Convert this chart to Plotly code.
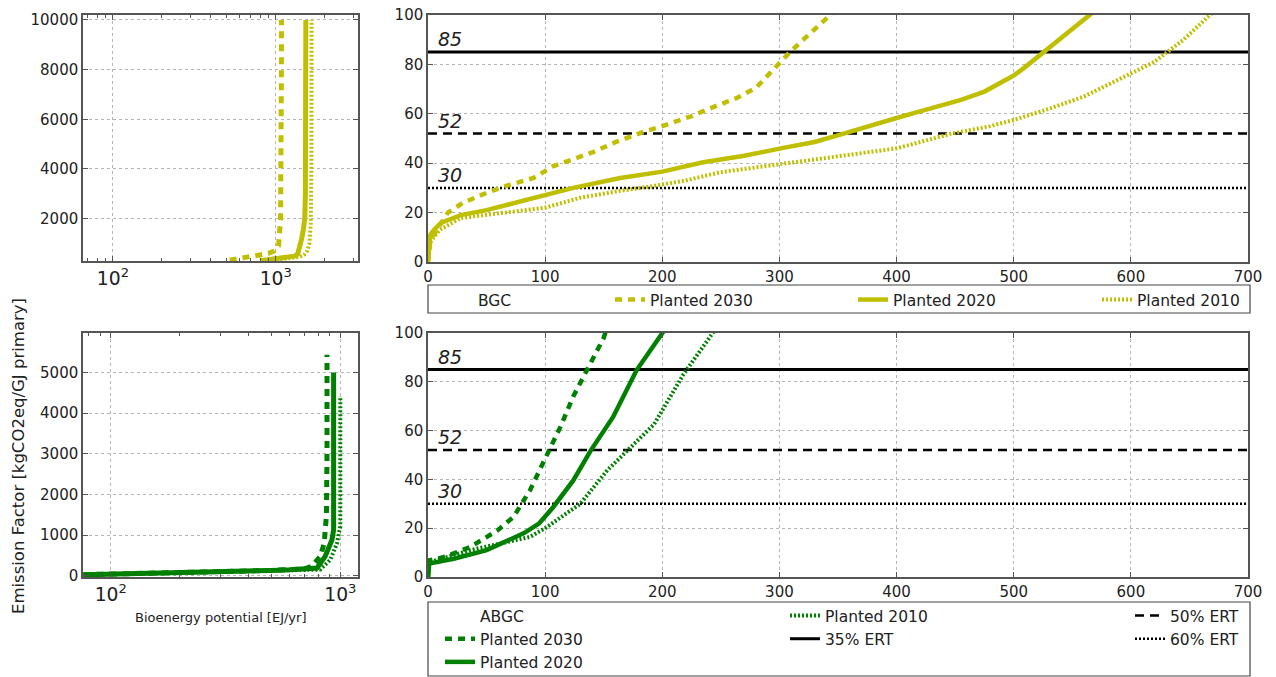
import plotly.graph_objects as go

W, H = 1276, 677

# ---------------- data ----------------
# BGC, linear view (top right)
bgc30_x = [0, 1, 2, 5, 10, 17, 30, 50, 68, 90, 107, 125, 141, 160, 184, 200, 224, 245, 264, 280, 289, 300, 309, 325, 343, 348]
bgc30_y = [0, 5, 9, 11, 15, 20, 24, 28, 31, 34, 38.8, 42, 44.5, 48.5, 52.7, 55, 58.9, 63, 66.5, 70.5, 75, 81, 85, 92, 100, 102]
bgc20_x = [0, 1, 2, 5, 11, 20, 28, 50, 93, 124, 164, 200, 235, 270, 300, 330, 352, 375, 400, 420, 440, 455, 475, 500, 510, 523, 541, 553, 565, 570]
bgc20_y = [0, 6, 11, 13, 15.8, 17.5, 19, 21, 26, 30, 34, 36.6, 40.4, 43, 45.9, 48.6, 51.6, 55, 58.3, 61, 63.5, 65.6, 69, 75.5, 79, 84, 91, 95.5, 100, 102]
bgc10_x = [0, 1, 2, 5, 10, 28, 50, 79, 100, 130, 160, 193, 220, 249, 275, 300, 349, 400, 447, 480, 500, 530, 560, 590, 620, 645, 668, 672]
bgc10_y = [0, 5, 8, 10, 13, 17.8, 19, 20.5, 22, 26, 28.5, 30.8, 33, 36.3, 38, 39.7, 42.5, 46, 52, 55, 57.5, 62, 67, 74, 81, 90, 100, 102]

# ABGC, linear view (bottom right)
abgc30_x = [0, 1, 14, 36, 59, 73, 87, 102, 113, 124, 136, 150, 152]
abgc30_y = [0, 6.8, 8.2, 12.3, 19, 24.6, 35.5, 50.5, 61.5, 74, 85, 98, 101]
abgc20_x = [0, 1, 22, 50, 82, 95, 107, 124, 139, 158, 178, 201, 203]
abgc20_y = [0, 5.5, 7.5, 11, 18, 22, 28.7, 39.6, 51.9, 65.6, 84.7, 100, 102]
abgc10_x = [0, 1, 36, 87, 100, 115, 130, 153, 173, 193, 218, 244, 246]
abgc10_y = [0, 6, 11, 16.4, 20, 25, 30, 43.7, 53, 62.6, 83, 100, 102]

# BGC, log view (top left)
bgcL30_x = [521, 600, 700, 800, 900, 980, 1040, 1070, 1080, 1083, 1084]
bgcL30_y = [330, 420, 480, 540, 600, 700, 900, 2000, 4000, 8000, 10000]
bgcL20_x = [800, 900, 1000, 1100, 1200, 1300, 1360, 1400, 1440, 1480, 1507, 1520, 1528, 1530]
bgcL20_y = [310, 360, 390, 420, 450, 490, 560, 800, 1170, 1600, 2000, 3000, 6000, 10000]
bgcL10_x = [900, 1000, 1100, 1200, 1300, 1400, 1450, 1500, 1560, 1610, 1640, 1655, 1660]
bgcL10_y = [300, 330, 360, 390, 420, 460, 500, 560, 700, 1000, 1800, 4000, 10000]

# ABGC, log view (bottom left)
abgcL30_x = [76, 100, 150, 200, 300, 400, 500, 600, 700, 751, 818, 851, 870, 875, 875]
abgcL30_y = [25, 35, 55, 70, 95, 115, 130, 145, 165, 230, 475, 800, 1500, 3000, 5440]
abgcL20_x = [76, 100, 150, 200, 300, 400, 500, 600, 700, 791, 859, 920, 935, 935]
abgcL20_y = [22, 33, 52, 68, 92, 112, 128, 143, 160, 188, 475, 884, 1130, 5000]
abgcL10_x = [76, 100, 150, 200, 300, 400, 500, 600, 700, 818, 904, 967, 1000, 1000]
abgcL10_y = [20, 30, 50, 65, 90, 110, 125, 140, 155, 150, 390, 800, 1211, 4420]

# emission reduction thresholds
ert_names = ["35% ERT", "50% ERT", "60% ERT"]
ert_levels = [85, 52, 30]
ert_labels = ["85", "52", "30"]
lin_range = [0, 700]

YELLOW = "#bfbf00"
GREEN = "#008000"


def px_x(p):
    return p / W


def px_y(p):
    return 1 - p / H


fig = go.Figure()

DASH = "7px,6px"
DOT = "2px,2px"

series_specs = [
    (bgcL30_x, bgcL30_y, YELLOW, DASH, 5, "x", "y"),
    (bgcL20_x, bgcL20_y, YELLOW, "solid", 5, "x", "y"),
    (bgcL10_x, bgcL10_y, YELLOW, DOT, 4, "x", "y"),
    (abgcL30_x, abgcL30_y, GREEN, DASH, 5, "x3", "y3"),
    (abgcL20_x, abgcL20_y, GREEN, "solid", 5, "x3", "y3"),
    (abgcL10_x, abgcL10_y, GREEN, DOT, 4, "x3", "y3"),
]
for xs, ys, c, d, w, xa, ya in series_specs:
    fig.add_trace(go.Scatter(x=xs, y=ys, mode="lines", xaxis=xa, yaxis=ya,
                             line=dict(color=c, dash=d, width=w), showlegend=False,
                             hoverinfo="skip"))

# ERT threshold lines on both linear panels
ert_dash = ["solid", "9px,6px", DOT]
ert_width = [3, 2.5, 2.5]
ert_legend = ["legend6", "legend7", "legend7"]
ert_rank = [20, 10, 20]
for xa, ya, show in [("x2", "y2", False), ("x4", "y4", True)]:
    for nm, lv, d, w, lg, rk in zip(ert_names, ert_levels, ert_dash, ert_width, ert_legend, ert_rank):
        fig.add_trace(go.Scatter(x=lin_range, y=[lv, lv], mode="lines", xaxis=xa, yaxis=ya,
                                 line=dict(color="black", dash=d, width=w), name=nm,
                                 legend=lg, legendgroup=nm, legendrank=rk, showlegend=show,
                                 hoverinfo="skip"))
    for lv, lb in zip(ert_levels, ert_labels):
        fig.add_annotation(x=7, y=lv, xref=xa, yref=ya, text="<i>" + lb + "</i>",
                           showarrow=False, xanchor="left", yanchor="bottom",
                           font=dict(size=19, color="#222", family="DejaVu Sans"))

# header entries (no symbol)
fig.add_trace(go.Scatter(x=[None], y=[None], mode="lines", name="BGC", legend="legend",
                         line=dict(color="rgba(0,0,0,0)"), xaxis="x2", yaxis="y2"))
fig.add_trace(go.Scatter(x=[None], y=[None], mode="lines", name="ABGC", legend="legend5",
                         legendgroup="h", legendrank=1, line=dict(color="rgba(0,0,0,0)"),
                         xaxis="x4", yaxis="y4"))

# BGC linear
fig.add_trace(go.Scatter(x=bgc30_x, y=bgc30_y, mode="lines", name="Planted 2030", legend="legend2",
                         line=dict(color=YELLOW, dash=DASH, width=4.5), xaxis="x2", yaxis="y2"))
fig.add_trace(go.Scatter(x=bgc20_x, y=bgc20_y, mode="lines", name="Planted 2020", legend="legend3",
                         line=dict(color=YELLOW, width=4.5), xaxis="x2", yaxis="y2"))
fig.add_trace(go.Scatter(x=bgc10_x, y=bgc10_y, mode="lines", name="Planted 2010", legend="legend4",
                         line=dict(color=YELLOW, dash=DOT, width=4), xaxis="x2", yaxis="y2"))
# ABGC linear
fig.add_trace(go.Scatter(x=abgc30_x, y=abgc30_y, mode="lines", name="Planted 2030", legend="legend5",
                         legendgroup="a30", legendrank=2, line=dict(color=GREEN, dash=DASH, width=4.5),
                         xaxis="x4", yaxis="y4"))
fig.add_trace(go.Scatter(x=abgc20_x, y=abgc20_y, mode="lines", name="Planted 2020", legend="legend5",
                         legendgroup="a20", legendrank=3, line=dict(color=GREEN, width=4.5),
                         xaxis="x4", yaxis="y4"))
fig.add_trace(go.Scatter(x=abgc10_x, y=abgc10_y, mode="lines", name="Planted 2010", legend="legend6",
                         legendgroup="a10", legendrank=1, line=dict(color=GREEN, dash=DOT, width=4),
                         xaxis="x4", yaxis="y4"))

FONT = "DejaVu Sans"
TICKFONT = dict(family=FONT, size=15, color="#222")
common = dict(showline=True, mirror="ticks", linecolor="#555", linewidth=1.5,
              ticks="inside", ticklen=5, tickcolor="#555", showgrid=True,
              gridcolor="#b5b5b5", griddash="dot", gridwidth=1, zeroline=False,
              tickfont=TICKFONT, automargin=False)

TL = dict(x=[83, 358], y=[15, 261])
BL = dict(x=[83, 358], y=[333, 577])
TR = dict(x=[428, 1248], y=[15, 262])
BR = dict(x=[428, 1248], y=[333, 577])


def dom(b):
    return [px_x(b["x"][0]), px_x(b["x"][1])], [px_y(b["y"][1]), px_y(b["y"][0])]


d1x, d1y = dom(TL)
d2x, d2y = dom(TR)
d3x, d3y = dom(BL)
d4x, d4y = dom(BR)

fig.update_layout(
    width=W, height=H, margin=dict(l=0, r=0, t=0, b=0, pad=0, autoexpand=False),
    paper_bgcolor="white", plot_bgcolor="white",
    font=dict(family=FONT, color="#222"),
    xaxis=dict(domain=d1x, anchor="y", type="log", range=[1.816, 3.505], dtick=1,
               exponentformat="power", minor=dict(ticks="inside", ticklen=3, tickcolor="#555"), **common),
    yaxis=dict(domain=d1y, anchor="x", range=[295, 10200], tickvals=[2000, 4000, 6000, 8000, 10000],
               tickformat="d", **common),
    xaxis2=dict(domain=d2x, anchor="y2", range=lin_range, dtick=100, **common),
    yaxis2=dict(domain=d2y, anchor="x2", range=[0, 100], dtick=20, **common),
    xaxis3=dict(domain=d3x, anchor="y3", type="log", range=[1.879, 3.077], dtick=1,
                exponentformat="power", minor=dict(ticks="inside", ticklen=3, tickcolor="#555"), **common),
    yaxis3=dict(domain=d3y, anchor="x3", range=[-33, 5974], dtick=1000, tickformat="d", **common),
    xaxis4=dict(domain=d4x, anchor="y4", range=lin_range, dtick=100, **common),
    yaxis4=dict(domain=d4y, anchor="x4", range=[0, 100], dtick=20, **common),
)

LEGFONT = dict(family=FONT, size=15.5, color="#222")
leg_common = dict(bgcolor="rgba(0,0,0,0)", borderwidth=0, font=LEGFONT, xanchor="left",
                  yanchor="top", orientation="v", traceorder="grouped", tracegroupgap=0)
fig.update_layout(
    legend=dict(x=px_x(438), y=px_y(283), **leg_common),
    legend2=dict(x=px_x(610), y=px_y(283), **leg_common),
    legend3=dict(x=px_x(853), y=px_y(283), **leg_common),
    legend4=dict(x=px_x(1097), y=px_y(283), **leg_common),
    legend5=dict(x=px_x(440), y=px_y(599), **leg_common),
    legend6=dict(x=px_x(785), y=px_y(599), **leg_common),
    legend7=dict(x=px_x(1130), y=px_y(599), **leg_common),
)

# legend frames
for y0, y1 in [(285, 313), (602, 676)]:
    fig.add_shape(type="rect", xref="paper", yref="paper", x0=px_x(428), x1=px_x(1250),
                  y0=px_y(y1), y1=px_y(y0), line=dict(color="#444", width=1.2), layer="below")

# shared axis labels
fig.add_annotation(text="Emission Factor [kgCO2eq/GJ primary]", xref="paper", yref="paper",
                   x=px_x(18), y=px_y(456), xanchor="center", yanchor="middle",
                   textangle=-90, showarrow=False,
                   font=dict(family=FONT, size=16.5, color="#222"))
fig.add_annotation(text="Bioenergy potential [EJ/yr]", xref="paper", yref="paper",
                   x=px_x(220), y=px_y(617), xanchor="center", yanchor="middle", showarrow=False,
                   font=dict(family=FONT, size=13, color="#222"))

fig.write_html("out.html", config={"displayModeBar": False},
               post_script="document.body.style.margin='0';document.body.style.overflow='hidden';")
